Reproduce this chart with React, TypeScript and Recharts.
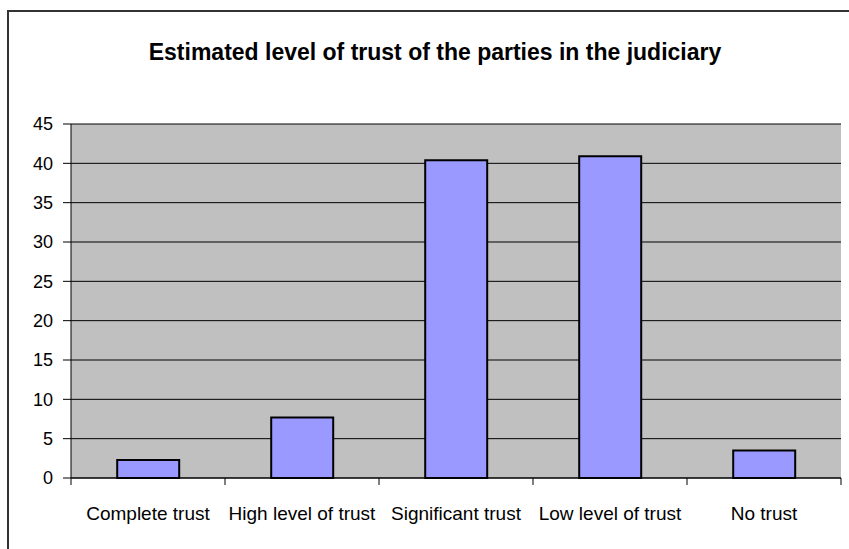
import React from 'react';
import { BarChart, Bar, XAxis, YAxis, CartesianGrid } from 'recharts';

const categories = ['Complete trust', 'High level of trust', 'Significant trust', 'Low level of trust', 'No trust'];
const values = [2.3, 7.7, 40.4, 40.9, 3.5];
const yTicks = [0, 5, 10, 15, 20, 25, 30, 35, 40, 45];
const title = 'Estimated level of trust of the parties in the judiciary';

const data = categories.map((c, i) => ({ name: c, value: values[i] }));

const FONT = '"Liberation Sans", Arial, sans-serif';

const CatTick = (props: any) => {
  const { x, y, payload, index, visibleTicksCount } = props;
  const off = payload.offset || 0;
  const isLast = index === visibleTicksCount - 1;
  return (
    <g>
      <line x1={x - off} x2={x - off} y1={y} y2={y + 7} stroke="#000" strokeWidth={1} />
      {isLast && <line x1={x + off} x2={x + off} y1={y} y2={y + 7} stroke="#000" strokeWidth={1} />}
      <text x={x} y={y + 42} textAnchor="middle" fontSize={19} fontFamily={FONT} fill="#000">
        {payload.value}
      </text>
    </g>
  );
};

export default function App() {
  return (
    <div style={{ position: 'absolute', left: 0, top: 0, width: 849, height: 549, overflow: 'hidden', background: '#fff' }}>
      <div style={{ position: 'absolute', left: 7, top: 10, width: 900, height: 600, border: '2px solid #333', boxSizing: 'border-box' }} />
      <div style={{ position: 'absolute', left: 0, width: 870, top: 37, textAlign: 'center', fontFamily: FONT, fontWeight: 'bold', fontSize: 23, lineHeight: '30px', color: '#000' }}>
        {title}
      </div>
      <div style={{ position: 'absolute', left: 0, top: 0 }}>
        <BarChart width={849} height={549} data={data} margin={{ top: 124, right: 8, left: 11, bottom: 31 }} barCategoryGap="30%">
          <CartesianGrid vertical={false} stroke="#000" fill="#C0C0C0" fillOpacity={1} horizontalValues={yTicks} />
          <XAxis dataKey="name" xAxisId="top" orientation="top" tick={false} tickLine={false} axisLine={{ stroke: '#808080', strokeWidth: 2.5 }} height={0} />
          <YAxis yAxisId="right" orientation="right" tick={false} tickLine={false} axisLine={{ stroke: '#808080', strokeWidth: 2.5 }} width={0} domain={[0, 45]} />
          <XAxis dataKey="name" tick={<CatTick />} tickLine={false} tickSize={0} tickMargin={0} axisLine={{ stroke: '#000' }} height={40} interval={0} />
          <YAxis domain={[0, 45]} ticks={yTicks} interval={0} width={60} tickSize={8} tickMargin={10} axisLine={{ stroke: '#000' }} tickLine={{ stroke: '#000' }} tick={{ fill: '#000', fontSize: 18, fontFamily: FONT }} />
          <Bar dataKey="value" fill="#9999FF" stroke="#000" strokeWidth={2} isAnimationActive={false} />
        </BarChart>
      </div>
    </div>
  );
}
